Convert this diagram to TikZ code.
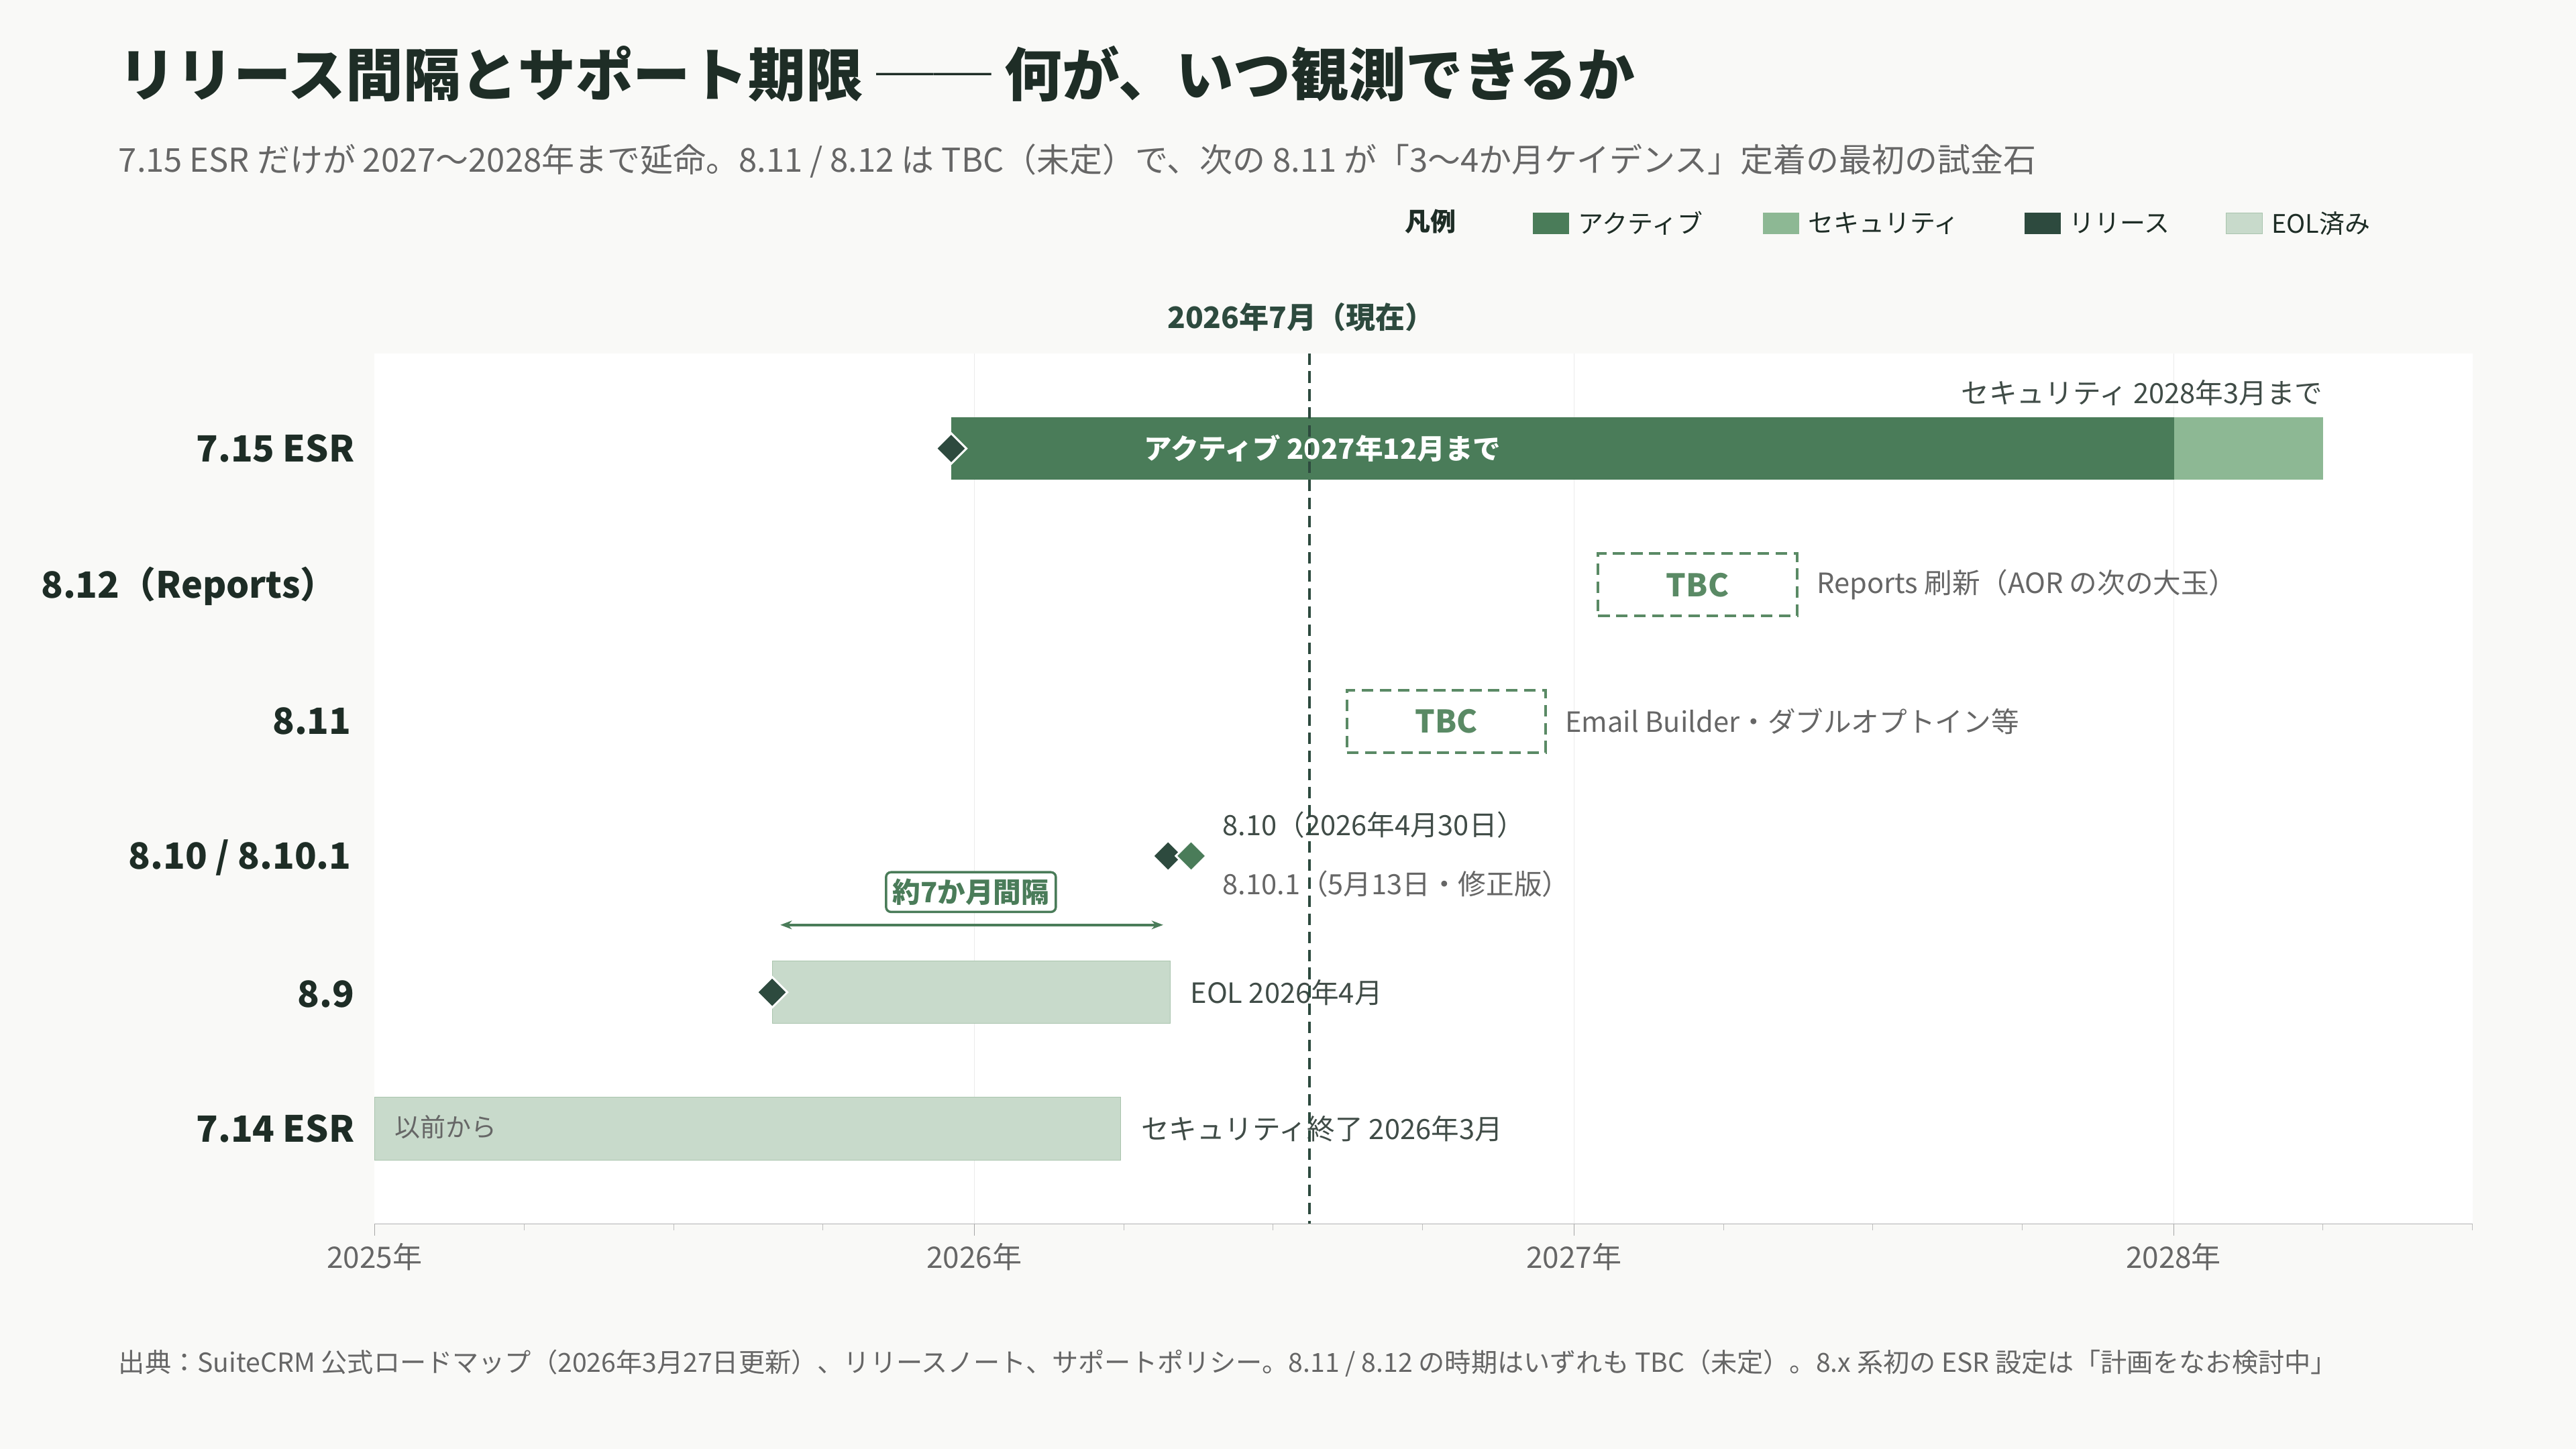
\documentclass[tikz,border=0pt]{standalone}
\usepackage{fontspec}
\setmainfont{Noto Sans CJK JP}
\usetikzlibrary{arrows.meta,positioning,shapes.geometric}
\definecolor{bg}{HTML}{F9F9F7}
\definecolor{active}{HTML}{4A7C59}
\definecolor{secur}{HTML}{8DB894}
\definecolor{rel}{HTML}{2D4A3E}
\definecolor{eol}{HTML}{C8DACB}
\definecolor{eolline}{HTML}{A9C4AD}
\definecolor{ink}{HTML}{1E2D26}
\definecolor{muted}{HTML}{666666}
\definecolor{tbc}{HTML}{5A8A65}
\tikzstyle{every node}=[inner sep=0pt]
\tikzstyle{rowlabel}=[anchor=east,font=\fontsize{22}{24}\selectfont\bfseries,text=ink]
\tikzstyle{note}=[anchor=west,font=\fontsize{17}{19}\selectfont,text=ink!85]
\tikzstyle{bar}=[minimum height=38pt,anchor=west]
\tikzstyle{milestone}=[diamond,fill=rel,draw=white,line width=1.2pt,minimum size=19pt]
\tikzstyle{tbcbox}=[draw=tbc,line width=1.6pt,dash pattern=on 7pt off 4pt,minimum width=121pt,minimum height=38pt,
                    anchor=west,font=\fontsize{19}{20}\selectfont\bfseries,text=tbc]
\tikzstyle{legendbox}=[minimum width=22pt,minimum height=13pt,anchor=west]
\tikzstyle{legendtext}=[anchor=west,font=\fontsize{15.5}{18}\selectfont,text=ink]

\begin{document}
\begin{tikzpicture}[x=1pt,y=-1pt]
\fill[bg] (0,0) rectangle (1568,882);
\useasboundingbox (0,0) rectangle (1568,882);
\fill[white] (228,215) rectangle (1505,745);
% grid
\foreach \x in {593,958,1323} \draw[black!8] (\x,215) -- (\x,745);
% titles
\node[anchor=west,font=\fontsize{35}{38}\selectfont\bfseries,text=ink] (title) at (72,45)
  {リリース間隔とサポート期限 ── 何が、いつ観測できるか};
\node[anchor=west,font=\fontsize{20}{23}\selectfont,text=muted] (sub) at (72,98)
  {7.15 ESR だけが 2027〜2028年まで延命。8.11 / 8.12 は TBC（未定）で、次の 8.11 が「3〜4か月ケイデンス」定着の最初の試金石};
% legend
\node[legendtext,font=\fontsize{15.5}{18}\selectfont\bfseries] (leg) at (855,135) {凡例};
\node[legendbox,fill=active] (la) at (933,136) {};
\node[legendtext,right=5pt of la] {アクティブ};
\node[legendbox,fill=secur] (ls) at (1073,136) {};
\node[legendtext,right=5pt of ls] {セキュリティ};
\node[legendbox,fill=rel] (lr) at (1232,136) {};
\node[legendtext,right=5pt of lr] {リリース};
\node[legendbox,fill=eol,draw=eolline] (le) at (1355,136) {};
\node[legendtext,right=5pt of le] {EOL済み};
% row labels
\node[rowlabel] (r715) at (216,273) {7.15 ESR};
\node[rowlabel] (r812) at (205,357) {8.12（Reports）};
\node[rowlabel] (r811) at (214,439) {8.11};
\node[rowlabel] (r810) at (214,522) {8.10 / 8.10.1};
\node[rowlabel] (r89) at (216,605) {8.9};
\node[rowlabel] (r714) at (216,687) {7.14 ESR};
% 7.15 ESR
\node[bar,fill=active,minimum width=744pt] (b715) at (579,273) {};
\node[bar,fill=secur,minimum width=91pt] (s715) at (1323,273) {};
\node[font=\fontsize{17}{19}\selectfont\bfseries,text=white] at (805,273) {アクティブ 2027年12月まで};
\node[note,anchor=east] at (1414,239) {セキュリティ 2028年3月まで};
\node[milestone] (d715) at (579,273) {};
% 8.12 / 8.11
\node[tbcbox] (t812) at (972,356) {TBC};
\node[note,right=11pt of t812,text=muted] {Reports 刷新（AOR の次の大玉）};
\node[tbcbox] (t811) at (819,439) {TBC};
\node[note,right=11pt of t811,text=muted] {Email Builder・ダブルオプトイン等};
% 8.10
\node[milestone] (d810) at (711,521) {};
\node[milestone,fill=active] (d8101) at (725,521) {};
\node[note] at (744,502) {8.10（2026年4月30日）};
\node[note,text=muted] at (744,538) {8.10.1（5月13日・修正版）};
% 8.9
\node[bar,fill=eol,draw=eolline,minimum width=242pt] (b89) at (470,604) {};
\node[milestone] (d89) at (470,604) {};
\node[note,right=12pt of b89] {EOL 2026年4月};
\coordinate (g1) at (475,563);
\coordinate (g2) at (708,563);
\draw[{Stealth[length=7pt]}-{Stealth[length=7pt]},active,line width=1.8pt] (g1) -- (g2);
\node[draw=active,fill=white,rounded corners=3pt,line width=1.4pt,inner sep=4pt,
      font=\fontsize{17}{19}\selectfont\bfseries,text=active] (gap) at (591,543) {約7か月間隔};
% 7.14 ESR
\node[bar,fill=eol,draw=eolline,minimum width=454pt] (b714) at (228,687) {};
\node[note,text=muted,font=\fontsize{15.5}{18}\selectfont] at (240,686) {以前から};
\node[note,right=12pt of b714] {セキュリティ終了 2026年3月};
% now line
\draw[rel,line width=1.8pt,dash pattern=on 7pt off 4pt] (797,215) -- (797,745);
\node[font=\fontsize{18}{20}\selectfont\bfseries,text=rel] (now) at (792,193) {2026年7月（現在）};
% axis
\draw[black!30] (228,745) -- (1505,745);
\foreach \x/\y in {228/2025,593/2026,958/2027,1323/2028}{
  \draw[black!35] (\x,745) -- (\x,752);
  \node[font=\fontsize{18}{20}\selectfont,text=muted] at (\x,765) {\y 年};
}
\foreach \x in {319,410,501,684,775,866,1049,1140,1231,1414,1505}
  \draw[black!25] (\x,745) -- (\x,749);
% footer
\node[anchor=west,font=\fontsize{16}{18}\selectfont,text=muted] (src) at (72,830)
  {出典：SuiteCRM 公式ロードマップ（2026年3月27日更新）、リリースノート、サポートポリシー。8.11 / 8.12 の時期はいずれも TBC（未定）。8.x 系初の ESR 設定は「計画をなお検討中」};
\end{tikzpicture}
\end{document}
